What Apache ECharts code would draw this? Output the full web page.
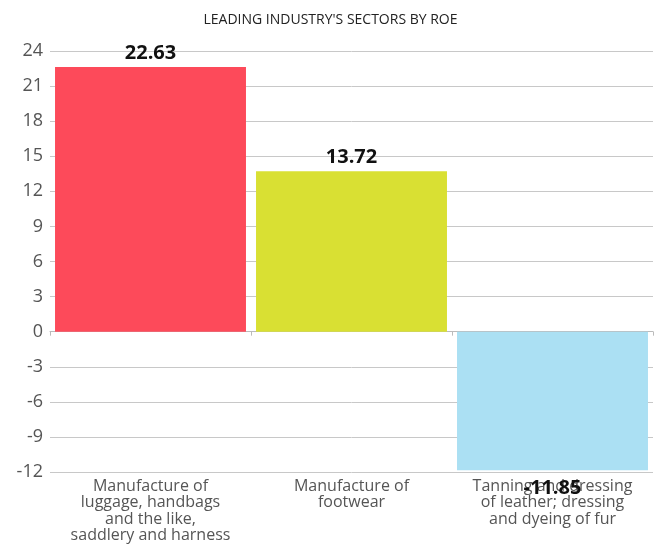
<!DOCTYPE html>
<html>
<head>
<meta charset="utf-8">
<script src="https://cdn.jsdelivr.net/npm/echarts@6/dist/echarts.min.js"></script>
<style>
  html, body { margin: 0; padding: 0; background: #fff; }
  #chart { width: 661px; height: 548px; }
</style>
</head>
<body>
<div id="chart"></div>
<script>
const chartTitle = "LEADING INDUSTRY'S SECTORS BY ROE";

const sectors = [
    'Manufacture of\nluggage, handbags\nand the like,\nsaddlery and harness',
    'Manufacture of\nfootwear',
    'Tanning and dressing\nof leather; dressing\nand dyeing of fur'
];
const roeValues = [22.63, 13.72, -11.85];
const barColors = ['#fd4a5a', '#d9e033', '#abe0f3'];

const yMin = -12;
const yMax = 24;
const yStep = 3;

const font = '"Open Sans", "Noto Sans", sans-serif';

const chart = echarts.init(document.getElementById('chart'));

const barData = roeValues.map((v, i) => ({
    value: v,
    itemStyle: { color: barColors[i] },
    label: { position: v < 0 ? 'bottom' : 'top', distance: v < 0 ? 8 : 4 }
}));

chart.setOption({
    animation: false,
    title: {
        text: chartTitle,
        left: 'center',
        top: 8,
        textStyle: { fontFamily: font, fontSize: 14, fontWeight: 'normal', color: '#222' }
    },
    grid: { left: 50, right: 8, top: 51, bottom: 76 },
    xAxis: [
        {
            type: 'category',
            data: sectors,
            position: 'bottom',
            axisLine: { show: false, onZero: false },
            axisTick: { show: false },
            axisLabel: {
                interval: 0,
                color: '#555',
                fontFamily: font,
                fontSize: 16,
                lineHeight: 16.5,
                margin: 6
            }
        },
        {
            type: 'category',
            data: sectors,
            position: 'bottom',
            axisLine: { show: true, onZero: true, lineStyle: { color: '#bbb', width: 1 } },
            axisTick: { show: true, length: 4, lineStyle: { color: '#bbb' } },
            axisLabel: { show: false }
        }
    ],
    yAxis: {
        type: 'value',
        min: yMin,
        max: yMax,
        interval: yStep,
        axisLine: { show: false },
        axisTick: { show: false },
        splitLine: { lineStyle: { color: '#c8c8c8', width: 1 } },
        axisLabel: {
            color: '#555',
            fontFamily: font,
            fontSize: 18,
            margin: 7
        }
    },
    series: [
        {
            type: 'bar',
            xAxisIndex: 0,
            data: barData,
            barCategoryGap: '5%',
            label: {
                show: true,
                color: '#111',
                fontFamily: font,
                fontSize: 20,
                fontWeight: 'bold',
                formatter: p => p.value.toFixed(2)
            }
        }
    ]
});
</script>
</body>
</html>
